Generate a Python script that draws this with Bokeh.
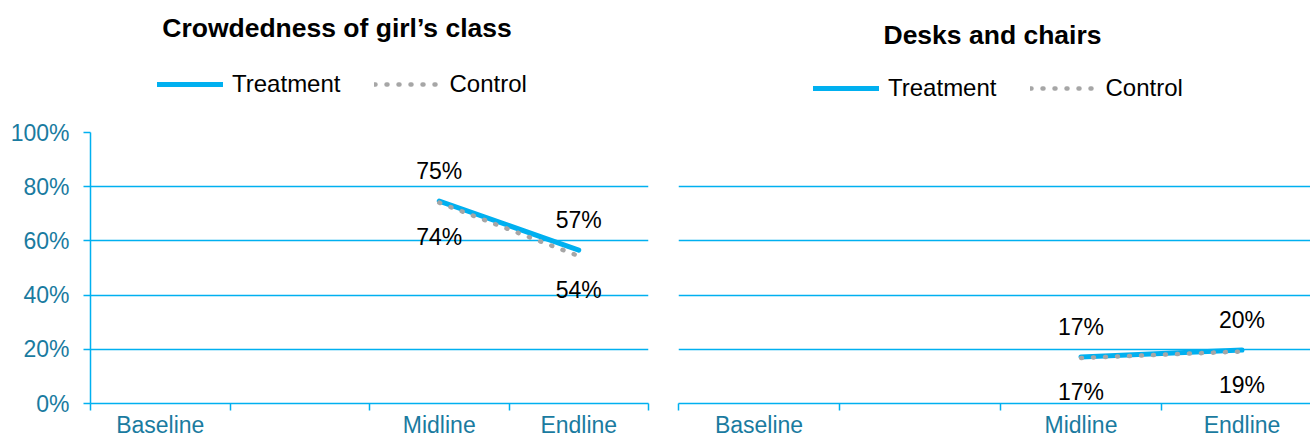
from bokeh.plotting import figure
from bokeh.models import (Range1d, FixedTicker, NumeralTickFormatter, Legend,
                          LegendItem, Label, ColumnDataSource)
from bokeh.layouts import row, column
from bokeh.embed import file_html
from bokeh.resources import INLINE
from bokeh.core.properties import value

# ---------------- data ----------------
categories = ["Baseline", "", "Midline", "Endline"]
y_ticks = [0, 0.2, 0.4, 0.6, 0.8, 1.0]
titles = ["Crowdedness of girl\u2019s class", "Desks and chairs"]
series_names = ["Treatment", "Control"]

crowd_treatment = [None, None, 0.747, 0.566]
crowd_control = [None, None, 0.741, 0.544]
desks_treatment = [None, None, 0.172, 0.197]
desks_control = [None, None, 0.168, 0.192]

# ---------------- style ----------------
FONT = "Liberation Sans"
CYAN = "#00B0F0"
TEAL = "#1A7BA0"
GRAY = "#A6A6A6"
HEAD_H = 112
CHART_H = 329
T_STYLE = dict(line_color=CYAN, line_width=5, line_cap="round")
C_STYLE = dict(line_color=GRAY, line_width=4.5, line_dash="1 11", line_cap="round")


def pts(vals):
    xs, ys = [], []
    for i, v in enumerate(vals):
        if v is not None:
            xs.append(i + 0.5)
            ys.append(v)
    return xs, ys


def make_header(title, treat, ctrl, width, frame_left, frame_right,
                title_x, title_y, legend_x, legend_y):
    # header frame is aligned with the chart frame below (page-pixel coordinates)
    h = figure(width=width, height=HEAD_H, x_range=Range1d(frame_left, frame_right),
               y_range=Range1d(0, HEAD_H), output_backend="svg",
               toolbar_location=None, x_axis_location=None, y_axis_location=None,
               min_border=0)
    h.outline_line_color = None
    h.grid.visible = False
    # series renderers for the legend (their data lie outside this header's view)
    tx, ty = pts(treat)
    cx, cy = pts(ctrl)
    r_t = h.line(tx, ty, **T_STYLE)
    r_c = h.line(cx, cy, **C_STYLE)
    legend = Legend(items=[LegendItem(label=series_names[0], renderers=[r_t]),
                           LegendItem(label=series_names[1], renderers=[r_c])],
                    orientation="horizontal", location=(legend_x, legend_y),
                    glyph_width=66, glyph_height=24, label_standoff=9, spacing=34,
                    padding=0, margin=0, border_line_color=None,
                    background_fill_alpha=0, label_text_font=FONT,
                    label_text_font_size="24px", label_text_color="black")
    h.add_layout(legend)
    h.add_layout(Label(x=title_x, y=title_y, text=title, text_font=FONT,
                       text_font_style="bold", text_font_size="26.5px",
                       text_align="center", text_baseline="middle",
                       text_color="black"))
    return h


def make_chart(treat, ctrl, width, border_left, border_right, x_end, show_y):
    p = figure(width=width, height=CHART_H, x_range=Range1d(0, x_end),
               y_range=Range1d(0, 1), output_backend="svg", toolbar_location=None,
               min_border_left=border_left, min_border_right=border_right,
               min_border_top=20, min_border_bottom=38)
    p.outline_line_color = None
    p.background_fill_color = "white"
    p.border_fill_color = "white"

    centers = [i + 0.5 for i in range(len(categories))]
    bounds = list(range(len(categories) + 1))
    xa = p.xaxis[0]
    xa.ticker = FixedTicker(ticks=centers, minor_ticks=bounds)
    xa.major_label_overrides = {c: lab for c, lab in zip(centers, categories)}
    xa.major_tick_out = 0
    xa.major_tick_in = 0
    xa.minor_tick_out = 7
    xa.minor_tick_in = 0
    xa.minor_tick_line_color = CYAN
    xa.minor_tick_line_width = 1.5
    xa.axis_line_color = CYAN
    xa.axis_line_width = 1.5
    xa.major_label_text_font = FONT
    xa.major_label_text_font_size = "23px"
    xa.major_label_text_color = TEAL
    xa.major_label_standoff = 1

    ya = p.yaxis[0]
    if show_y:
        ya.ticker = FixedTicker(ticks=y_ticks)
        ya.formatter = NumeralTickFormatter(format="0%")
        ya.major_tick_out = 7
        ya.major_tick_in = 0
        ya.major_tick_line_color = CYAN
        ya.major_tick_line_width = 1.5
        ya.minor_tick_line_color = None
        ya.axis_line_color = CYAN
        ya.axis_line_width = 1.5
        ya.major_label_text_font = FONT
        ya.major_label_text_font_size = "23px"
        ya.major_label_text_color = TEAL
        ya.major_label_standoff = 14
    else:
        ya.visible = False

    p.xgrid.visible = False
    p.ygrid.ticker = FixedTicker(ticks=[t for t in y_ticks if t > 0])
    p.ygrid.grid_line_color = CYAN
    p.ygrid.grid_line_width = 1.5

    tx, ty = pts(treat)
    cx, cy = pts(ctrl)
    p.line(tx, ty, **T_STYLE)
    p.line(cx, cy, **C_STYLE)

    src_t = ColumnDataSource(dict(x=tx, y=ty, text=[f"{round(v * 100)}%" for v in ty]))
    src_c = ColumnDataSource(dict(x=cx, y=cy, text=[f"{round(v * 100)}%" for v in cy]))
    for src, off in ((src_t, -30), (src_c, 34)):
        p.text(x="x", y="y", text="text", source=src, text_font=value(FONT),
               text_font_size="23px", text_align="center", text_baseline="middle",
               text_color="black", y_offset=off)
    return p


h1 = make_header(titles[0], crowd_treatment, crowd_control, 660, 90, 648,
                 title_x=336.5, title_y=HEAD_H - 27, legend_x=67, legend_y=14)
c1 = make_chart(crowd_treatment, crowd_control, 660, 90, 12, 4, True)
h2 = make_header(titles[1], desks_treatment, desks_control, 650, 678, 1310,
                 title_x=992, title_y=HEAD_H - 34, legend_x=135, legend_y=10)
c2 = make_chart(desks_treatment, desks_control, 650, 18, 0, 632 / 161, False)

layout = row(column(h1, c1), column(h2, c2))
open("out.html", "w").write(file_html(layout, INLINE))
